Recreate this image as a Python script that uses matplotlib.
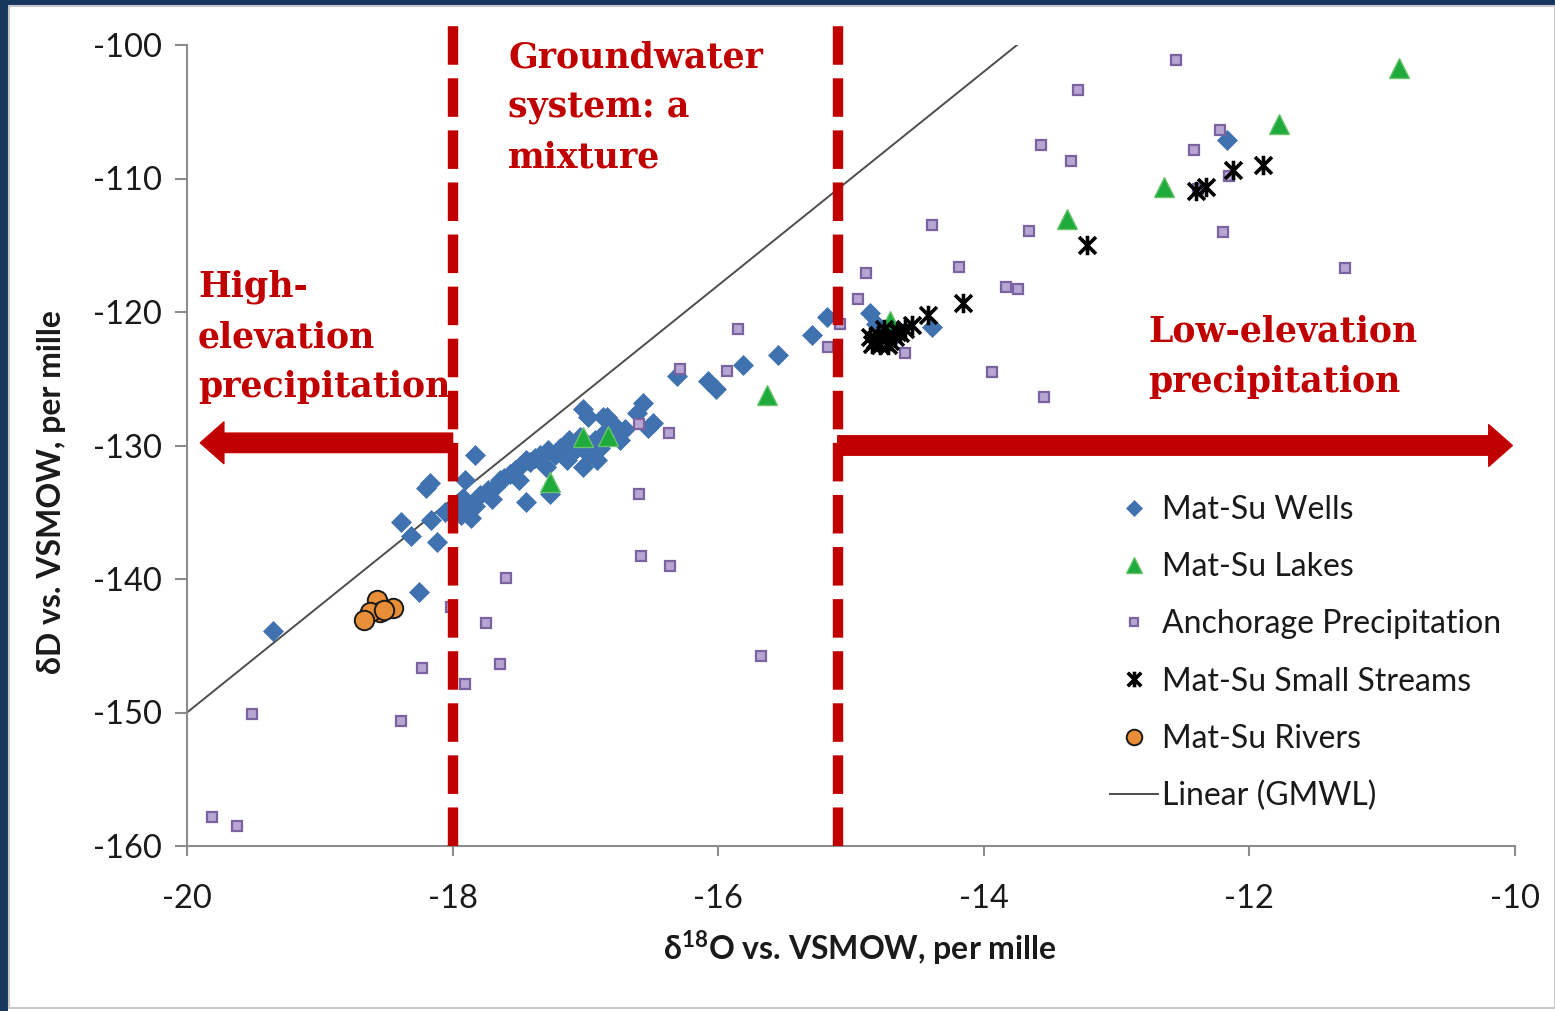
import matplotlib
matplotlib.use('Agg')
import matplotlib.pyplot as plt
from matplotlib.path import Path
from matplotlib.patches import FancyArrowPatch, Rectangle

plt.rcParams['font.family'] = ['Lato', 'DejaVu Sans']
plt.rcParams['mathtext.fontset'] = 'custom'
plt.rcParams['mathtext.rm'] = 'Lato'
plt.rcParams['mathtext.bf'] = 'Lato:bold'

# ---------------- data ----------------
wells_x = [-19.35, -18.39, -18.31, -18.25, -18.20, -18.17, -18.16, -18.12, -18.06, -17.98,
           -17.94, -17.92, -17.91, -17.87, -17.86, -17.83, -17.83, -17.79, -17.73, -17.70,
           -17.68, -17.64, -17.61, -17.57, -17.53, -17.50, -17.49, -17.45, -17.45, -17.42,
           -17.38, -17.34, -17.30, -17.28, -17.27, -17.23, -17.19, -17.15, -17.14, -17.12,
           -17.08, -17.04, -17.02, -17.02, -17.00, -16.98, -16.97, -16.94, -16.93, -16.91,
           -16.89, -16.87, -16.85, -16.84, -16.80, -16.77, -16.74, -16.70, -16.61, -16.57,
           -16.53, -16.49, -16.31, -16.08, -16.02, -15.81, -15.55, -15.29, -15.18, -14.86,
           -14.81, -14.75, -14.70, -14.39, -12.17]
wells_y = [-143.9, -135.7, -136.8, -141.0, -133.2, -132.8, -135.6, -137.2, -135.0, -134.6,
           -135.2, -133.9, -132.6, -134.8, -135.4, -134.5, -130.7, -133.7, -133.3, -134.0,
           -133.1, -132.6, -132.4, -132.1, -131.8, -132.6, -131.5, -131.1, -134.2, -131.2,
           -130.9, -130.7, -131.6, -130.3, -133.6, -130.7, -130.2, -130.0, -131.1, -129.6,
           -130.3, -129.4, -131.6, -127.3, -130.0, -127.9, -130.7, -130.3, -129.6, -131.1,
           -130.2, -127.9, -129.0, -127.9, -128.5, -128.6, -129.6, -128.8, -127.6, -126.8,
           -128.7, -128.3, -124.8, -125.2, -125.8, -124.0, -123.2, -121.7, -120.4, -120.1,
           -120.9, -121.6, -122.0, -121.1, -107.1]

lakes_x = [-17.27, -17.02, -16.83, -15.63, -14.71, -13.37, -12.64, -11.78, -10.87]
lakes_y = [-132.7, -129.4, -129.3, -126.2, -120.7, -113.0, -110.6, -105.9, -101.7]

precip_x = [-12.55, -13.29, -13.57, -13.34, -12.22, -12.42, -12.15, -12.39, -12.20, -14.39,
            -13.66, -14.19, -14.89, -11.28, -13.83, -13.74, -14.95, -15.08, -15.17, -14.59,
            -13.94, -13.55, -15.85, -15.93, -16.29, -16.37, -16.60, -16.60, -16.58, -16.36,
            -15.68, -17.60, -17.75, -17.64, -17.91, -18.01, -18.23, -18.39, -19.51, -19.81,
            -19.62]
precip_y = [-101.1, -103.4, -107.5, -108.7, -106.4, -107.9, -109.8, -110.8, -114.0, -113.5,
            -113.9, -116.6, -117.1, -116.7, -118.1, -118.3, -119.0, -120.9, -122.6, -123.1,
            -124.5, -126.4, -121.3, -124.4, -124.3, -129.1, -128.4, -133.6, -138.3, -139.0,
            -145.8, -139.9, -143.3, -146.4, -147.9, -142.1, -146.7, -150.6, -150.1, -157.8,
            -158.5]

streams_x = [-11.90, -12.12, -12.33, -12.40, -13.22, -14.16, -14.42, -14.54, -14.65, -14.82,
             -14.78, -14.74, -14.71, -14.67, -14.80, -14.84, -14.72, -14.63, -14.75, -14.59,
             -14.86]
streams_y = [-109.0, -109.4, -110.6, -110.9, -115.0, -119.3, -120.2, -121.0, -121.5, -122.1,
             -122.5, -121.9, -122.2, -121.9, -121.7, -122.4, -122.5, -121.6, -121.3, -121.3,
             -121.9]

rivers_x = [-18.57, -18.45, -18.55, -18.62, -18.67, -18.52]
rivers_y = [-141.6, -142.2, -142.5, -142.5, -143.1, -142.3]

# Global Meteoric Water Line: dD = 8 * d18O + 10
gmwl_slope = 8.0
gmwl_intercept = 10.0
gmwl_x = [-20.0, -13.75]
gmwl_y = [gmwl_slope * v + gmwl_intercept for v in gmwl_x]

zone_bounds = [-18.0, -15.1]

x_ticks = [-20, -18, -16, -14, -12, -10]
y_ticks = [-160, -150, -140, -130, -120, -110, -100]

# ---------------- figure ----------------
W, H = 1555, 1011
fig = plt.figure(figsize=(W / 100, H / 100), dpi=100)
fig.patch.set_facecolor('white')

# navy frame strips and light border
fig.patches.append(Rectangle((0, 0), 8 / W, 1, transform=fig.transFigure,
                             facecolor='#17375E', edgecolor='none', zorder=0))
fig.patches.append(Rectangle((0, 1 - 5 / H), 1, 5 / H, transform=fig.transFigure,
                             facecolor='#17375E', edgecolor='none', zorder=0))
fig.patches.append(Rectangle((9 / W, 3 / H), 1 - 9 / W, 1 - 9 / H, transform=fig.transFigure,
                             facecolor='none', edgecolor='#C8C8C8', lw=1.5, zorder=0))

ax = fig.add_axes([187 / W, 1 - 846 / H, (1515 - 187) / W, (846 - 45) / H])
ax.set_xlim(-20, -10)
ax.set_ylim(-160, -100)
ax.set_xticks(x_ticks)
ax.set_yticks(y_ticks)
ax.set_xticklabels([str(t) for t in x_ticks])
ax.set_yticklabels([str(t) for t in y_ticks])
for s in ['top', 'right']:
    ax.spines[s].set_visible(False)
for s in ['left', 'bottom']:
    ax.spines[s].set_color('#8C8C8C')
    ax.spines[s].set_linewidth(1.5)
ax.tick_params(axis='y', length=9, width=1.5, color='#8C8C8C', labelsize=23.5, pad=9,
               labelcolor='#1a1a1a')
ax.tick_params(axis='x', length=7, width=1.5, color='#8C8C8C', labelsize=23.5, pad=20,
               labelcolor='#1a1a1a')

ax.plot(gmwl_x, gmwl_y, color='#4D4D4D', lw=1.4, zorder=2, label='Linear (GMWL)')

ax.plot(wells_x, wells_y, 'D', ms=10.5, color='#3F72AF', mec='#3F72AF', mew=0.5,
        zorder=3, label='Mat-Su Wells')
ax.plot(lakes_x, lakes_y, '^', ms=15, color='#1FAA3C', mec='#6BC36F', mew=1,
        zorder=4, label='Mat-Su Lakes')
ax.plot(precip_x, precip_y, 's', ms=7.5, color='#B7A6D3', mec='#7A63A0', mew=1.6,
        zorder=5, label='Anchorage Precipitation')

star = Path([(-1, -1), (1, 1), (-1, 1), (1, -1), (0, -1.15), (0, 1.15)],
            [Path.MOVETO, Path.LINETO, Path.MOVETO, Path.LINETO, Path.MOVETO, Path.LINETO])
ax.plot(streams_x, streams_y, linestyle='none', marker=star, ms=14, mec='black',
        mfc='none', mew=2.6, zorder=6, label='Mat-Su Small Streams')
ax.plot(rivers_x, rivers_y, 'o', ms=14, color='#E88E38', mec='#1a1a1a', mew=1.4,
        zorder=7, label='Mat-Su Rivers')

# zone arrows
red = '#C00000'
arrow_style = 'simple,head_length=17,head_width=30,tail_width=14'
ax.add_patch(FancyArrowPatch((zone_bounds[0], -129.8), (-19.90, -129.8),
                             arrowstyle=arrow_style, mutation_scale=1, color=red,
                             shrinkA=0, shrinkB=0, clip_on=False, zorder=8))
ax.add_patch(FancyArrowPatch((zone_bounds[1], -130.0), (-10.02, -130.0),
                             arrowstyle=arrow_style, mutation_scale=1, color=red,
                             shrinkA=0, shrinkB=0, clip_on=False, zorder=8))

# zone dashed lines
for xb in zone_bounds:
    ax.plot([xb, xb], [-160, -98.2], color=red, lw=7.5, dashes=(3.7, 1.3),
            solid_capstyle='butt', dash_capstyle='butt', clip_on=False, zorder=9)

# annotations
serif = dict(family='DejaVu Serif', weight='bold', color=red, fontsize=25,
             linespacing=1.58, ha='left', va='top')
fig.text(508 / W, 1 - 41 / H, 'Groundwater\nsystem: a\nmixture', **serif)
fig.text(198 / W, 1 - 270 / H, 'High-\nelevation\nprecipitation', **serif)
fig.text(1148 / W, 1 - 315 / H, 'Low-elevation\nprecipitation', **serif)

# axis labels
ax.set_ylabel('δD vs. VSMOW, per mille', fontsize=23, fontweight='bold',
              color='#1a1a1a')
ax.yaxis.set_label_coords(-0.091, 0.442)
ax.set_xlabel(r'δ$^{\mathbf{18}}$O vs. VSMOW, per mille', fontsize=23,
              fontweight='bold', color='#1a1a1a')
ax.xaxis.set_label_coords(0.507, -0.103)

# legend (order as in reference)
handles, labels = ax.get_legend_handles_labels()
order = ['Mat-Su Wells', 'Mat-Su Lakes', 'Anchorage Precipitation',
         'Mat-Su Small Streams', 'Mat-Su Rivers', 'Linear (GMWL)']
hmap = dict(zip(labels, handles))
leg = ax.legend([hmap[k] for k in order], order, loc='upper left',
                bbox_to_anchor=(0.695, 0.438), frameon=False, fontsize=23,
                markerscale=0.8, handlelength=1.5, handletextpad=0.12,
                labelspacing=0.85, borderpad=0, borderaxespad=0)
for t in leg.get_texts():
    t.set_color('#1a1a1a')

fig.savefig('out.png', dpi=100)
